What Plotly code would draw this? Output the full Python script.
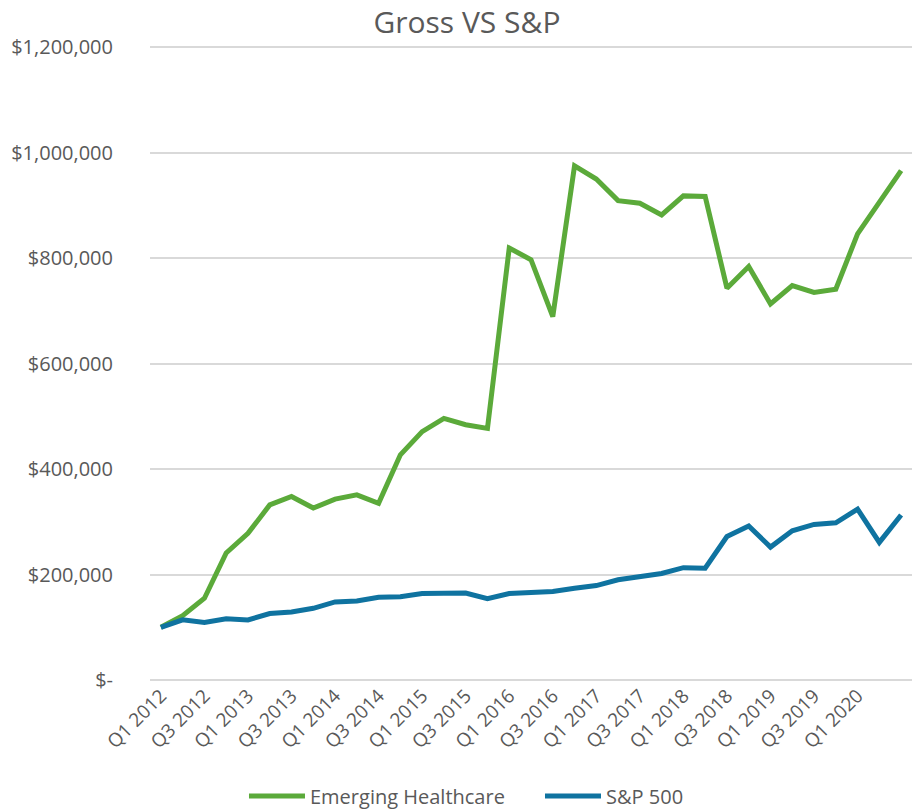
import plotly.graph_objects as go

quarters = [f"Q{q} {y}" for y in range(2012, 2021) for q in range(1, 5)][:35]

emerging_healthcare = [100000, 122000, 155000, 241000, 278000, 332000, 348000, 326000, 343000, 351000,
                       335000, 427000, 471000, 496000, 484000, 477000, 819000, 797000, 689000, 975000,
                       950000, 909000, 904000, 882000, 918000, 917000, 743000, 784000, 713000, 748000,
                       735000, 741000, 846000, 904000, 966000]

sp500 = [100000, 114000, 109000, 116000, 114000, 126000, 129000, 136000, 148000, 150000,
         157000, 158000, 164000, 165000, 165000, 154000, 164000, 166000, 168000, 174000,
         179000, 190000, 195000, 202000, 213000, 212000, 272000, 292000, 252000, 283000,
         295000, 298000, 324000, 261000, 313000]

x_tick_labels = [quarters[i] for i in range(0, 33, 2)]

y_tick_vals = [0, 200000, 400000, 600000, 800000, 1000000, 1200000]
y_tick_text = ["$-", "$200,000", "$400,000", "$600,000", "$800,000", "$1,000,000", "$1,200,000"]

FONT = "Open Sans"
TEXT = "#595959"

fig = go.Figure()
fig.add_trace(go.Scatter(x=quarters, y=emerging_healthcare, mode="lines", name="Emerging Healthcare",
                         line=dict(color="#5BAA3A", width=5)))
fig.add_trace(go.Scatter(x=quarters, y=sp500, mode="lines", name="S&P 500",
                         line=dict(color="#0F73A0", width=5)))

fig.update_layout(
    width=921, height=809,
    paper_bgcolor="white", plot_bgcolor="white",
    margin=dict(l=150, r=9, t=44, b=129, autoexpand=False),
    title=dict(text="Gross VS S&P", x=0.507, xanchor="center", y=0.9716, yanchor="middle",
               font=dict(family=FONT, size=30, color=TEXT)),
    font=dict(family=FONT, color=TEXT),
    showlegend=True,
    legend=dict(orientation="h", x=0.5118, xanchor="center", y=-0.1824, yanchor="middle",
                font=dict(family=FONT, size=20, color=TEXT), itemwidth=56, tracegroupgap=0,
                entrywidth=225, entrywidthmode="pixels"),
)
fig.update_xaxes(type="category", range=[-0.5, 34.5], showgrid=False, showline=False, automargin=False,
                 tickmode="array", tickvals=x_tick_labels, ticktext=x_tick_labels,
                 tickangle=-45, tickfont=dict(family=FONT, size=19, color=TEXT), ticks="")
fig.update_yaxes(range=[0, 1206000], tickmode="array", tickvals=y_tick_vals, ticktext=y_tick_text,
                 showgrid=True, gridcolor="#D9D9D9", gridwidth=1.5, zeroline=True, automargin=False,
                 zerolinecolor="#D9D9D9", zerolinewidth=1.5, showline=False,
                 tickfont=dict(family=FONT, size=20, color=TEXT), ticklabelstandoff=36)

fig.write_html("out.html", config={"displayModeBar": False},
               post_script="document.body.style.margin='0';")
